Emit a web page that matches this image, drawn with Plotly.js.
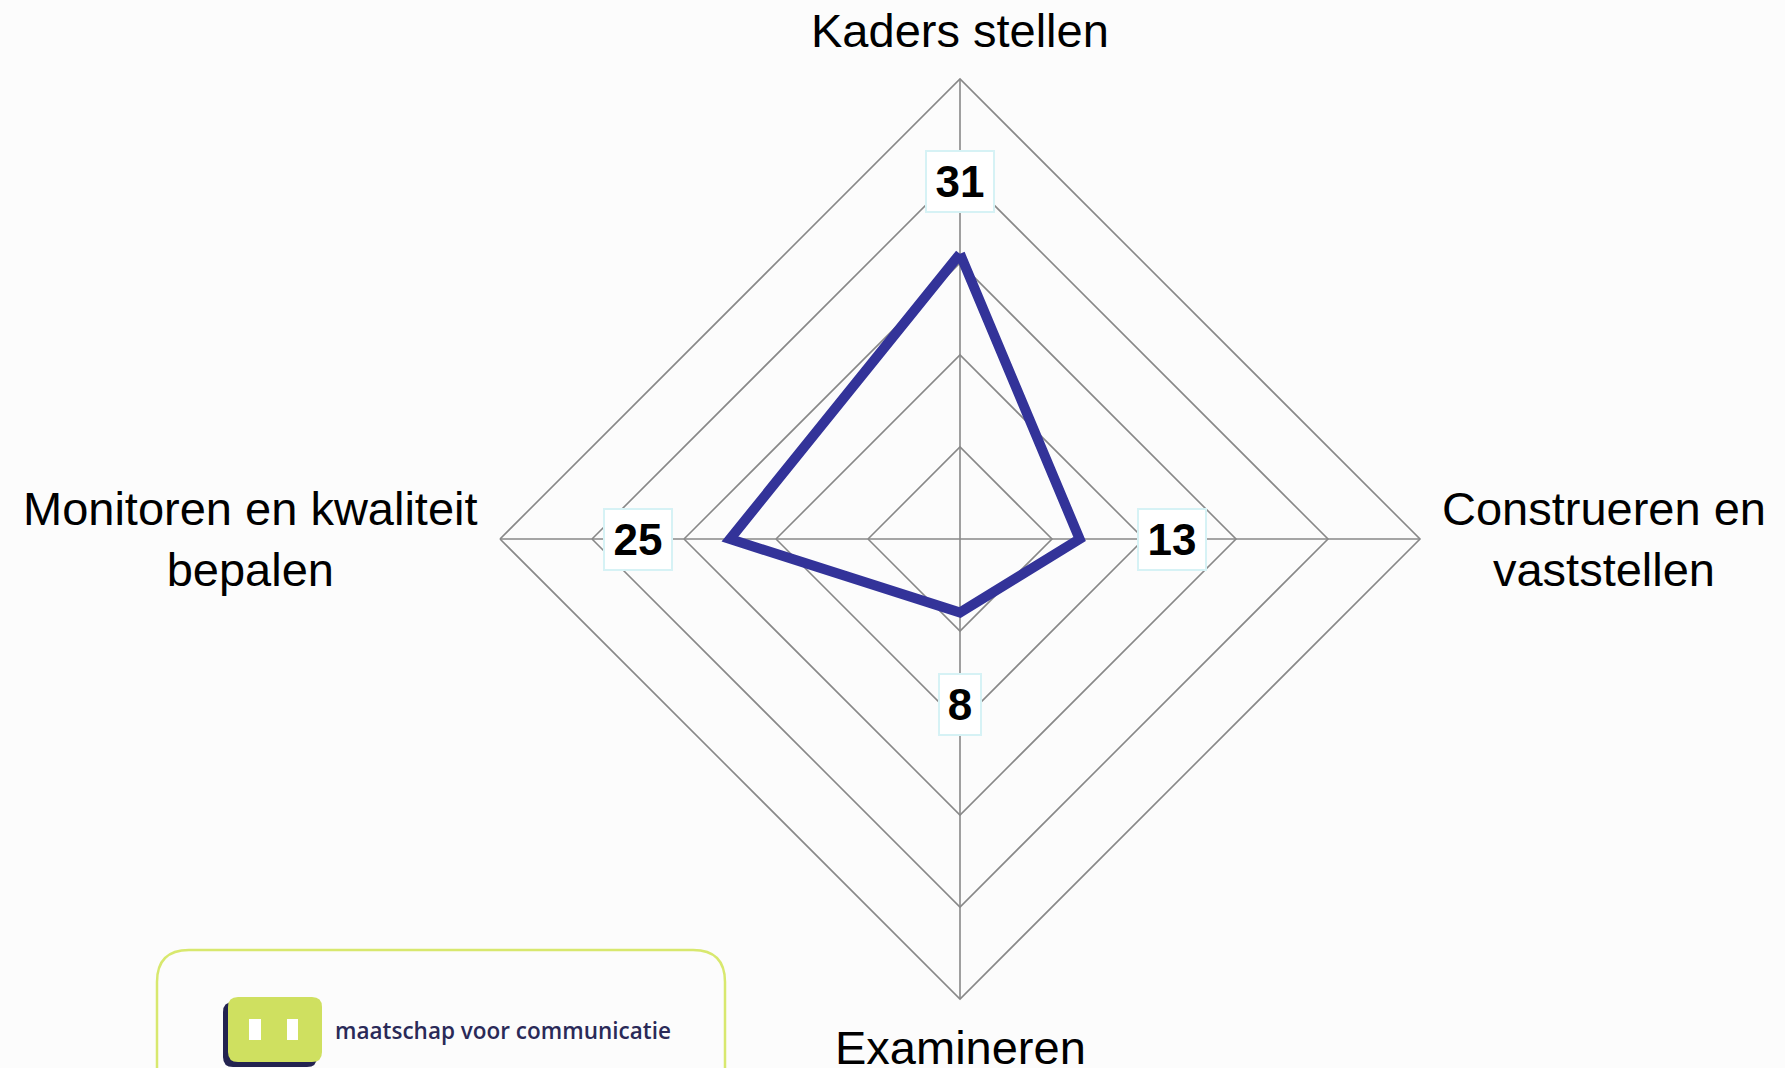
<!DOCTYPE html>
<html><head><meta charset="utf-8">
<script src="https://cdn.plot.ly/plotly-3.0.1.min.js"></script>
<style>html,body{margin:0;padding:0;background:#fcfcfc;} #chart{width:1785px;height:1068px;}</style>
</head><body><div id="chart"></div>
<script>
// ---- data ----
const categories = ['Kaders stellen', 'Construeren en vaststellen', 'Examineren', 'Monitoren en kwaliteit bepalen'];
const categoryLabels = ['Kaders stellen', 'Construeren en<br>vaststellen', 'Examineren', 'Monitoren en kwaliteit<br>bepalen'];
const scores = [31, 13, 8, 25];
const radialMax = 50;
const radialStep = 10;
const logoText = 'maatschap voor communicatie';

// ---- layout geometry ----
const W = 1785, H = 1068, CX = 960, CY = 539, R = 460;
const px = x => x / W, py = y => 1 - y / H;
const n = categories.length;
const angleOf = i => (90 - i * 360 / n) * Math.PI / 180;
const valuePad = [72, 92, 92, 92];
const catGap = 20;

const annotations = [];
// category labels
categoryLabels.forEach((lab, i) => {
  const a = angleOf(i), c = Math.cos(a), s = Math.sin(a);
  const rr = R + catGap;
  let xa = 'center', ya = 'middle';
  if (c > 0.5) xa = 'left'; else if (c < -0.5) xa = 'right';
  if (s > 0.5) ya = 'bottom'; else if (s < -0.5) ya = 'top';
  annotations.push({
    xref: 'paper', yref: 'paper', x: px(CX + rr * c), y: py(CY - rr * s),
    xanchor: xa, yanchor: ya, align: 'center', showarrow: false, text: lab,
    font: {family: 'Liberation Sans, Arial, sans-serif', size: 47, color: '#000000'}
  });
});
// value labels
scores.forEach((v, i) => {
  const a = angleOf(i), c = Math.cos(a), s = Math.sin(a);
  const rr = v / radialMax * R + valuePad[i];
  annotations.push({
    xref: 'paper', yref: 'paper', x: px(CX + rr * c), y: py(CY - rr * s),
    xanchor: 'center', yanchor: 'middle', showarrow: false, text: '<b>' + v + '</b>',
    font: {family: 'Liberation Sans, Arial, sans-serif', size: 44, color: '#000000'},
    bgcolor: '#ffffff', bordercolor: '#d6f2f5', borderwidth: 2, borderpad: 4,
    width: String(v).length * 26 + 6, height: 51
  });
});
// logo text
annotations.push({
  xref: 'paper', yref: 'paper', x: px(333), y: py(1030), xanchor: 'left', yanchor: 'middle',
  showarrow: false, text: logoText,
  font: {family: 'Open Sans, Noto Sans, sans-serif', size: 22.5, color: '#2a2a58', weight: 600}
});

function rrectPath(x0, y0, x1, y1, r, openBottom) {
  const P = (x, y) => px(x) + ',' + py(y);
  if (openBottom) {
    return 'M ' + P(x0, y1) + ' L ' + P(x0, y0 + r) + ' Q ' + P(x0, y0) + ' ' + P(x0 + r, y0) +
      ' L ' + P(x1 - r, y0) + ' Q ' + P(x1, y0) + ' ' + P(x1, y0 + r) + ' L ' + P(x1, y1);
  }
  return 'M ' + P(x0 + r, y0) + ' L ' + P(x1 - r, y0) + ' Q ' + P(x1, y0) + ' ' + P(x1, y0 + r) +
    ' L ' + P(x1, y1 - r) + ' Q ' + P(x1, y1) + ' ' + P(x1 - r, y1) +
    ' L ' + P(x0 + r, y1) + ' Q ' + P(x0, y1) + ' ' + P(x0, y1 - r) +
    ' L ' + P(x0, y0 + r) + ' Q ' + P(x0, y0) + ' ' + P(x0 + r, y0) + ' Z';
}
const shapes = [
  {type: 'path', xref: 'paper', yref: 'paper', path: rrectPath(157, 950, 725, 1090, 32, true),
   line: {color: '#d8e86e', width: 2.5}, fillcolor: 'rgba(0,0,0,0)'},
  {type: 'path', xref: 'paper', yref: 'paper', path: rrectPath(223, 1002, 317, 1067, 10, false),
   line: {width: 0}, fillcolor: '#232350'},
  {type: 'path', xref: 'paper', yref: 'paper', path: rrectPath(228, 997, 322, 1062, 10, false),
   line: {width: 0}, fillcolor: '#cfe060'},
  {type: 'rect', xref: 'paper', yref: 'paper', x0: px(249), x1: px(261), y0: py(1019), y1: py(1040),
   line: {width: 0}, fillcolor: '#ffffff'},
  {type: 'rect', xref: 'paper', yref: 'paper', x0: px(287), x1: px(298), y0: py(1019), y1: py(1040),
   line: {width: 0}, fillcolor: '#ffffff'}
];

const trace = {
  type: 'scatterpolar', mode: 'lines',
  r: scores.concat([scores[0]]),
  theta: categories.concat([categories[0]]),
  line: {color: '#333399', width: 10},
  hoverinfo: 'skip'
};

const layout = {
  width: W, height: H,
  margin: {l: 0, r: 0, t: 0, b: 0},
  paper_bgcolor: '#fcfcfc',
  showlegend: false,
  polar: {
    domain: {x: [(CX - R) / W, (CX + R) / W], y: [1 - (CY + R) / H, 1 - (CY - R) / H]},
    bgcolor: 'rgba(0,0,0,0)',
    gridshape: 'linear',
    radialaxis: {range: [0, radialMax], dtick: radialStep, tick0: 0, showticklabels: false, ticks: '',
      showline: false, gridcolor: '#888888', gridwidth: 1.6},
    angularaxis: {categoryarray: categories, rotation: 90, direction: 'clockwise', showticklabels: false,
      ticks: '', showline: true, linecolor: '#888888', linewidth: 1.6, gridcolor: '#888888', gridwidth: 1.6}
  },
  annotations: annotations,
  shapes: shapes
};

Plotly.newPlot('chart', [trace], layout, {displayModeBar: false, staticPlot: true});
</script>
</body></html>
